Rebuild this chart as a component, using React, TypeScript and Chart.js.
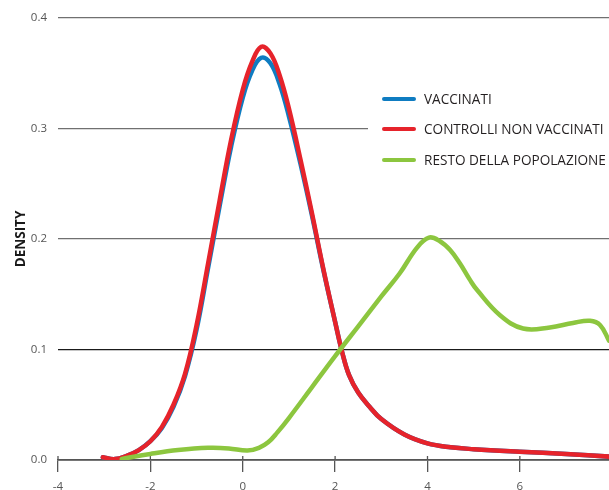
import { useEffect, useRef } from "react";
import { Chart, registerables } from "chart.js";

Chart.register(...registerables);

// ---- data ----
const seriesLabels = ["VACCINATI", "CONTROLLI NON VACCINATI", "RESTO DELLA POPOLAZIONE"];
const seriesColors = ["#0f7cc1", "#e6232b", "#8cc63f"];

const vaccX = [-3.03, -2.77, -2.5, -2.25, -2.0, -1.75, -1.5, -1.25, -1.0, -0.75, -0.5, -0.25, 0.0, 0.2, 0.4, 0.6, 0.8, 1.0, 1.25, 1.5, 1.75, 2.0, 2.15, 2.3, 2.5, 2.75, 3.0, 3.5, 4.0, 4.5, 5.0, 6.0, 7.0, 7.95];
const vaccY = [0.0025, 0.0008, 0.004, 0.009, 0.017, 0.029, 0.048, 0.076, 0.118, 0.174, 0.23, 0.284, 0.328, 0.352, 0.364, 0.359, 0.34, 0.311, 0.268, 0.221, 0.171, 0.125, 0.098, 0.077, 0.061, 0.048, 0.037, 0.023, 0.015, 0.0115, 0.0098, 0.0075, 0.0055, 0.003];

const ctrlX = [-3.03, -2.77, -2.5, -2.25, -2.0, -1.75, -1.5, -1.25, -1.0, -0.75, -0.5, -0.25, 0.0, 0.2, 0.4, 0.6, 0.8, 1.0, 1.25, 1.5, 1.75, 2.0, 2.15, 2.3, 2.5, 2.75, 3.0, 3.5, 4.0, 4.5, 5.0, 6.0, 7.0, 7.95];
const ctrlY = [0.0025, 0.0008, 0.004, 0.009, 0.017, 0.03, 0.05, 0.078, 0.122, 0.178, 0.235, 0.29, 0.335, 0.36, 0.374, 0.368, 0.348, 0.318, 0.272, 0.223, 0.172, 0.125, 0.098, 0.077, 0.061, 0.048, 0.037, 0.023, 0.015, 0.0115, 0.0098, 0.0075, 0.0055, 0.003];

const restX = [-2.62, -2.0, -1.4, -0.75, -0.3, 0.1, 0.35, 0.55, 0.75, 1.0, 1.5, 2.0, 2.5, 3.0, 3.4, 3.77, 4.03, 4.27, 4.49, 4.7, 4.92, 5.07, 5.57, 6.07, 6.65, 7.15, 7.52, 7.74, 7.93];
const restY = [0.001, 0.0055, 0.009, 0.011, 0.0105, 0.0085, 0.011, 0.016, 0.025, 0.038, 0.066, 0.094, 0.121, 0.148, 0.169, 0.192, 0.2013, 0.198, 0.19, 0.178, 0.163, 0.154, 0.131, 0.119, 0.12, 0.124, 0.126, 0.122, 0.108];

const xTicks = [-4, -2, 0, 2, 4, 6];
const yTicks = [0, 0.1, 0.2, 0.3, 0.4];
const yTitle = "DENSITY";

const toPoints = (xs: number[], ys: number[]) => xs.map((x, i) => ({ x, y: ys[i] }));

const maskPlugin = {
  id: "maskGrid",
  beforeDatasetsDraw(chart: any) {
    const { ctx, chartArea, scales } = chart;
    const y = scales.y.getPixelForValue(0.3);
    ctx.save();
    ctx.fillStyle = "#ffffff";
    ctx.fillRect(368, y - 2, chartArea.right - 368 + 2, 4);
    // tick marks poking above the x axis
    ctx.strokeStyle = "#555555";
    ctx.lineWidth = 1.3;
    xTicks.forEach((t) => {
      const x = scales.x.getPixelForValue(t);
      ctx.beginPath();
      ctx.moveTo(x, chartArea.bottom - 4);
      ctx.lineTo(x, chartArea.bottom);
      ctx.stroke();
    });
    ctx.restore();
  },
};

const legendPlugin = {
  id: "customLegend",
  afterDraw(chart: any) {
    const ctx = chart.ctx;
    ctx.save();
    const rows = [99, 129, 160];
    chart.data.datasets.forEach((ds: any, i: number) => {
      const y = rows[i];
      ctx.strokeStyle = ds.borderColor;
      ctx.lineWidth = 4;
      ctx.lineCap = "round";
      ctx.beginPath();
      ctx.moveTo(384, y);
      ctx.lineTo(414, y);
      ctx.stroke();
      ctx.fillStyle = "#231f20";
      ctx.font = "13.6px 'Open Sans', sans-serif";
      ctx.textBaseline = "middle";
      ctx.textAlign = "left";
      ctx.fillText(ds.label, 424, y + 1);
    });
    ctx.restore();
  },
};

export default function App() {
  const ref = useRef<HTMLCanvasElement | null>(null);
  useEffect(() => {
    if (!ref.current) return;
    const mk = (i: number, xs: number[], ys: number[], order: number) => ({
      label: seriesLabels[i],
      data: toPoints(xs, ys),
      borderColor: seriesColors[i],
      backgroundColor: seriesColors[i],
      borderWidth: 4.5,
      pointRadius: 0,
      tension: 0.4,
      borderCapStyle: "round" as const,
      borderJoinStyle: "round" as const,
      fill: false,
      order,
    });
    const chart = new Chart(ref.current, {
      type: "line",
      data: {
        datasets: [
          mk(0, vaccX, vaccY, 2),
          mk(1, ctrlX, ctrlY, 1),
          mk(2, restX, restY, 0),
        ],
      },
      options: {
        responsive: false,
        animation: false,
        devicePixelRatio: 1,
        layout: { padding: { top: 18, right: 0, left: 0, bottom: 0 } },
        plugins: { legend: { display: false }, tooltip: { enabled: false } },
        scales: {
          x: {
            type: "linear",
            min: -4,
            max: 7.93,
            afterFit: (s: any) => { s.height = 30; },
            afterBuildTicks: (s: any) => { s.ticks = xTicks.map((v) => ({ value: v })); },
            ticks: {
              includeBounds: false,
              color: "#555555",
              padding: 8,
              font: { family: "'Open Sans', sans-serif", size: 11.5 },
              callback: (v: any) => String(v),
            },
            grid: {
              drawOnChartArea: false,
              drawTicks: true,
              tickLength: 12,
              color: "#555555",
              lineWidth: 1.3,
            },
            border: { display: true, color: "#555555", width: 1.8 },
          },
          y: {
            type: "linear",
            min: 0,
            max: 0.4,
            afterFit: (s: any) => { s.width = 58; },
            afterBuildTicks: (s: any) => { s.ticks = yTicks.map((v) => ({ value: v })); },
            ticks: {
              color: "#555555",
              padding: 11,
              font: { family: "'Open Sans', sans-serif", size: 11.5 },
              callback: (v: any) => Number(v).toFixed(1),
            },
            grid: {
              drawTicks: false,
              color: (c: any) => (Math.abs(c.tick?.value - 0.1) < 1e-6 ? "#1a1a1a" : "#707070"),
              lineWidth: 1.3,
            },
            border: { display: false },
            title: {
              display: true,
              text: yTitle,
              color: "#1a1a1a",
              font: { family: "'Open Sans', sans-serif", size: 13.5, weight: "bold" },
              padding: { top: 13, bottom: 0 },
            },
          },
        },
      },
      plugins: [maskPlugin, legendPlugin],
    });
    return () => chart.destroy();
  }, []);
  return (
    <div style={{ position: "absolute", left: 0, top: 0, width: 609, height: 490, background: "#fff" }}>
      <canvas ref={ref} width={609} height={490} style={{ display: "block" }} />
    </div>
  );
}
